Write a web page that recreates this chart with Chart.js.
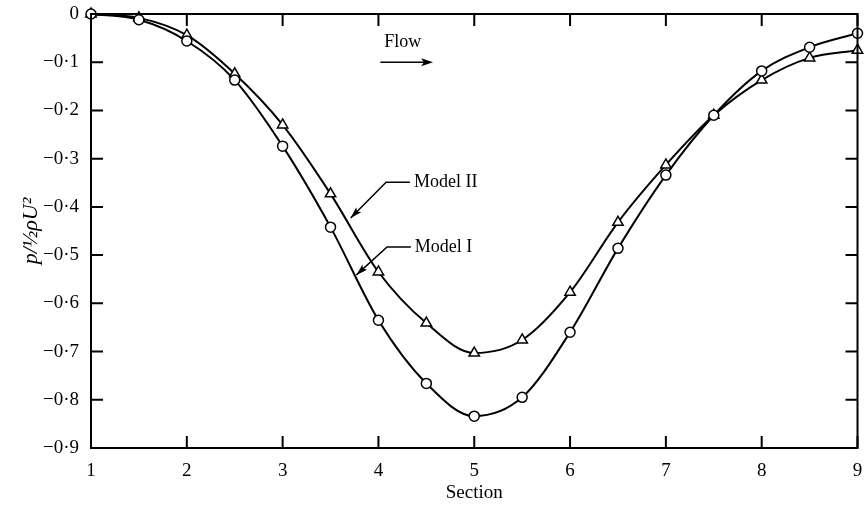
<!DOCTYPE html>
<html>
<head>
<meta charset="utf-8">
<script src="https://cdn.jsdelivr.net/npm/chart.js@4"></script>
<style>
  html, body { margin: 0; padding: 0; background: #fff; }
  #wrap { width: 865px; height: 506px; }
</style>
</head>
<body>
<div id="wrap"><canvas id="chart" width="865" height="506"></canvas></div>
<script>
// Daten
const sections = [1, 1.5, 2, 2.5, 3, 3.5, 4, 4.5, 5, 5.5, 6, 6.5, 7, 7.5, 8, 8.5, 9];
const modelI  = [0, -0.012, -0.056, -0.137, -0.274, -0.442, -0.635, -0.766, -0.834, -0.795, -0.66, -0.486, -0.334, -0.21, -0.118, -0.069, -0.04];
const modelII = [0, -0.008, -0.044, -0.124, -0.23, -0.373, -0.535, -0.641, -0.703, -0.676, -0.577, -0.432, -0.313, -0.21, -0.137, -0.091, -0.075];
const xTicks = [1, 2, 3, 4, 5, 6, 7, 8, 9];
const yTicks = [0, -0.1, -0.2, -0.3, -0.4, -0.5, -0.6, -0.7, -0.8, -0.9];

const serif = '"Liberation Serif", "DejaVu Serif", serif';

function fmtY(v) {
    if (v === 0) return '0';
    return '\u2212' + Math.abs(v).toFixed(1).replace('.', '\u00B7');
}

// Rahmen, Ticks nach innen und Beschriftungen
const framePlugin = {
    id: 'frame',
    afterDatasetsDraw(chart) {
        const ctx = chart.ctx;
        const a = chart.chartArea;
        const xs = chart.scales.x;
        const ys = chart.scales.y;
        const tl = 12;
        ctx.save();
        ctx.strokeStyle = '#000';
        ctx.lineWidth = 2;
        ctx.strokeRect(a.left, a.top, a.right - a.left, a.bottom - a.top);
        ctx.beginPath();
        xTicks.forEach(v => {
            const px = xs.getPixelForValue(v);
            ctx.moveTo(px, a.bottom); ctx.lineTo(px, a.bottom - tl);
            ctx.moveTo(px, a.top); ctx.lineTo(px, a.top + tl);
        });
        yTicks.forEach(v => {
            const py = ys.getPixelForValue(v);
            ctx.moveTo(a.left, py); ctx.lineTo(a.left + tl, py);
            ctx.moveTo(a.right, py); ctx.lineTo(a.right - tl, py);
        });
        ctx.stroke();

        // Flow-Pfeil
        ctx.lineWidth = 1.5;
        ctx.fillStyle = '#000';
        ctx.font = '18px ' + serif;
        ctx.textBaseline = 'middle';
        ctx.textAlign = 'left';
        ctx.fillText('Flow', xs.getPixelForValue(4.06), ys.getPixelForValue(-0.058));
        const fx1 = xs.getPixelForValue(4.02), fx2 = xs.getPixelForValue(4.57), fy = ys.getPixelForValue(-0.1);
        ctx.beginPath();
        ctx.moveTo(fx1, fy); ctx.lineTo(fx2 - 4, fy);
        ctx.stroke();
        ctx.beginPath();
        ctx.moveTo(fx2, fy); ctx.lineTo(fx2 - 12, fy - 4); ctx.lineTo(fx2 - 9, fy); ctx.lineTo(fx2 - 12, fy + 4);
        ctx.closePath();
        ctx.fill();

        // Modell-Beschriftungen mit Pfeilen
        const labels = [
            { text: 'Model II', tx: 4.37, ty: -0.349, ex: 4.08, px: 3.71, py: -0.423 },
            { text: 'Model I', tx: 4.38, ty: -0.483, ex: 4.09, px: 3.77, py: -0.541 }
        ];
        labels.forEach(l => {
            const tx = xs.getPixelForValue(l.tx), ty = ys.getPixelForValue(l.ty);
            const ex = xs.getPixelForValue(l.ex);
            const px = xs.getPixelForValue(l.px), py = ys.getPixelForValue(l.py);
            ctx.fillText(l.text, tx, ty);
            ctx.beginPath();
            ctx.moveTo(tx - 4, ty); ctx.lineTo(ex, ty); ctx.lineTo(px, py);
            ctx.stroke();
            const ang = Math.atan2(py - ty, px - ex);
            ctx.beginPath();
            ctx.moveTo(px, py);
            ctx.lineTo(px - 12 * Math.cos(ang - 0.3), py - 12 * Math.sin(ang - 0.3));
            ctx.lineTo(px - 9 * Math.cos(ang), py - 9 * Math.sin(ang));
            ctx.lineTo(px - 12 * Math.cos(ang + 0.3), py - 12 * Math.sin(ang + 0.3));
            ctx.closePath();
            ctx.fill();
        });
        ctx.restore();
    }
};

const ctx = document.getElementById('chart').getContext('2d');
const chart = new Chart(ctx, {
    type: 'line',
    data: {
        datasets: [
            {
                label: 'Model I',
                data: sections.map((s, i) => ({ x: s, y: modelI[i] })),
                borderColor: '#000',
                borderWidth: 2,
                backgroundColor: '#fff',
                pointStyle: 'circle',
                pointRadius: 5,
                pointBorderWidth: 1.5,
                pointBorderColor: '#000',
                pointBackgroundColor: '#fff',
                cubicInterpolationMode: 'monotone',
                clip: false
            },
            {
                label: 'Model II',
                data: sections.map((s, i) => ({ x: s, y: modelII[i] })),
                borderColor: '#000',
                borderWidth: 2,
                backgroundColor: '#fff',
                pointStyle: 'triangle',
                pointRadius: 6,
                pointBorderWidth: 1.5,
                pointBorderColor: '#000',
                pointBackgroundColor: '#fff',
                cubicInterpolationMode: 'monotone',
                clip: false
            }
        ]
    },
    options: {
        responsive: false,
        animation: false,
        layout: { padding: { top: 14, right: -2, left: 0, bottom: 0 } },
        plugins: {
            legend: { display: false },
            tooltip: { enabled: false }
        },
        scales: {
            x: {
                type: 'linear',
                min: 1,
                max: 9,
                grid: { display: false, drawTicks: false },
                border: { display: false },
                afterFit: s => { s.height = 58; s.paddingLeft = 0; s.paddingRight = 0; },
                afterBuildTicks: s => { s.ticks = xTicks.map(v => ({ value: v })); },
                ticks: {
                    color: '#000',
                    padding: 12,
                    font: { family: serif, size: 19 },
                    maxRotation: 0,
                    callback: v => String(v)
                },
                title: {
                    display: true,
                    text: 'Section',
                    color: '#000',
                    font: { family: serif, size: 19 },
                    padding: { top: 0, bottom: 2 }
                }
            },
            y: {
                min: -0.9,
                max: 0,
                grid: { display: false, drawTicks: false },
                border: { display: false },
                afterFit: s => { s.width = 91; s.paddingTop = 0; s.paddingBottom = 0; },
                afterBuildTicks: s => { s.ticks = yTicks.map(v => ({ value: v })); },
                ticks: {
                    color: '#000',
                    padding: 12,
                    font: { family: serif, size: 19 },
                    callback: v => fmtY(v)
                },
                title: {
                    display: true,
                    text: 'p/\u00BD\u03C1U\u00B2',
                    color: '#000',
                    font: { family: serif, size: 22, style: 'italic' },
                    padding: { top: 18, bottom: 0 }
                }
            }
        }
    },
    plugins: [framePlugin]
});
</script>
</body>
</html>
